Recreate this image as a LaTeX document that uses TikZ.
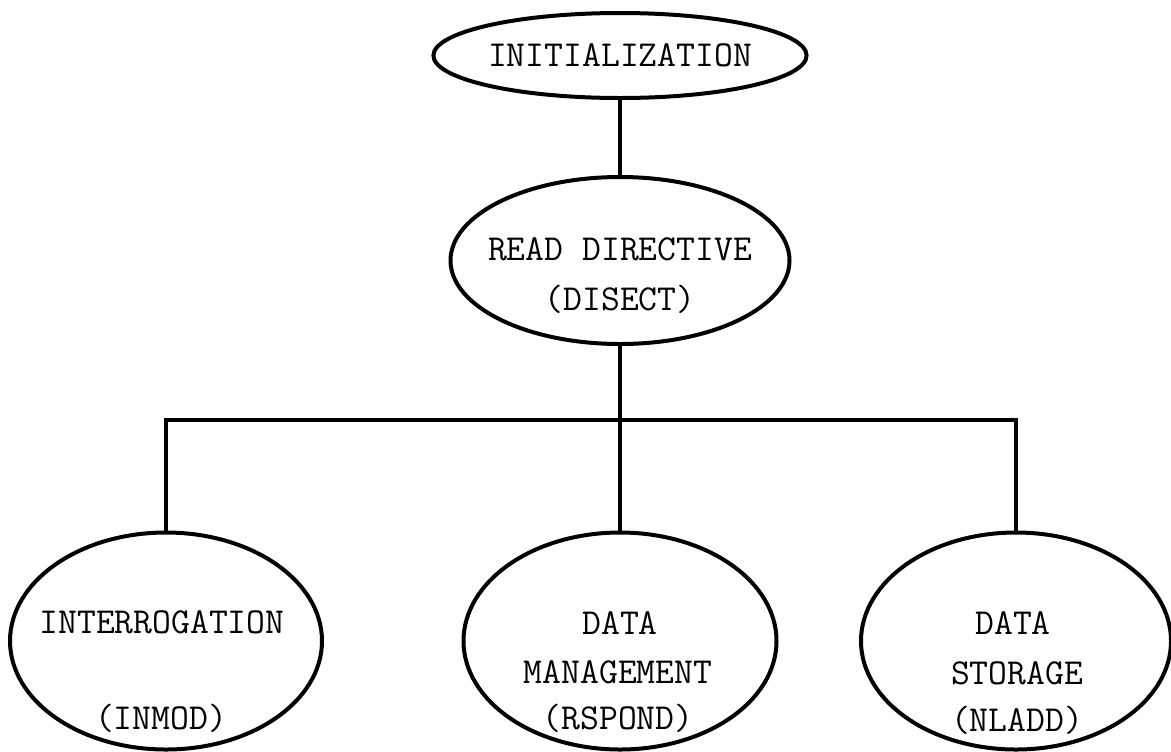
\documentclass[tikz,border=0pt]{standalone}
\usepackage{fontspec}
\usetikzlibrary{shapes.geometric, calc}
\tikzset{
    x=0.5pt, y=-0.5pt,
    every node/.style={font=\ttfamily\fontsize{18.3}{22}\selectfont},
    module/.style={ellipse, draw, line width=2pt, inner sep=0pt},
    txt/.style={anchor=base, inner sep=0pt},
    conn/.style={line width=2pt},
}
\begin{document}
\begin{tikzpicture}
            \useasboundingbox (0, 0) rectangle (1171, 751);
            % modules
            \node[module, minimum width=169.5pt, minimum height=42.5pt] (init)
                at (620, 55.5) {INITIALIZATION};
            \node[module, minimum width=169.5pt, minimum height=83.5pt] (read)
                at (620, 260.5) {};
            \node[module, minimum width=156pt, minimum height=108.5pt] (inter)
                at (166, 641) {};
            \node[module, minimum width=156.5pt, minimum height=108.5pt] (mgmt)
                at (620, 641) {};
            \node[module, minimum width=155pt, minimum height=108.5pt] (store)
                at (1016, 641) {};
            % labels
            \node[txt] (readA) at (620, 260) {READ DIRECTIVE};
            \node[txt] (readB) at (620, 310) {(DISECT)};
            \node[txt] (interA) at (162, 633) {INTERROGATION};
            \node[txt] (interB) at (161, 729) {(INMOD)};
            \node[txt] (mgmtA) at (620, 634) {DATA};
            \node[txt] (mgmtB) at (618, 683) {MANAGEMENT};
            \node[txt] (mgmtC) at (618, 729) {(RSPOND)};
            \node[txt] (storeA) at (1013, 634) {DATA};
            \node[txt] (storeB) at (1017, 684) {STORAGE};
            \node[txt] (storeC) at (1017, 731) {(NLADD)};
            % connectors
            \coordinate (bar) at (620, 420);
            \draw[conn] (init) -- (read);
            \draw[conn] (read) -- (bar);
            \draw[conn] (bar) -- (mgmt);
            \draw[conn] (inter.north) -- (inter.north |- bar)
                -- (store.north |- bar) -- (store.north);
        \end{tikzpicture}
\end{document}
